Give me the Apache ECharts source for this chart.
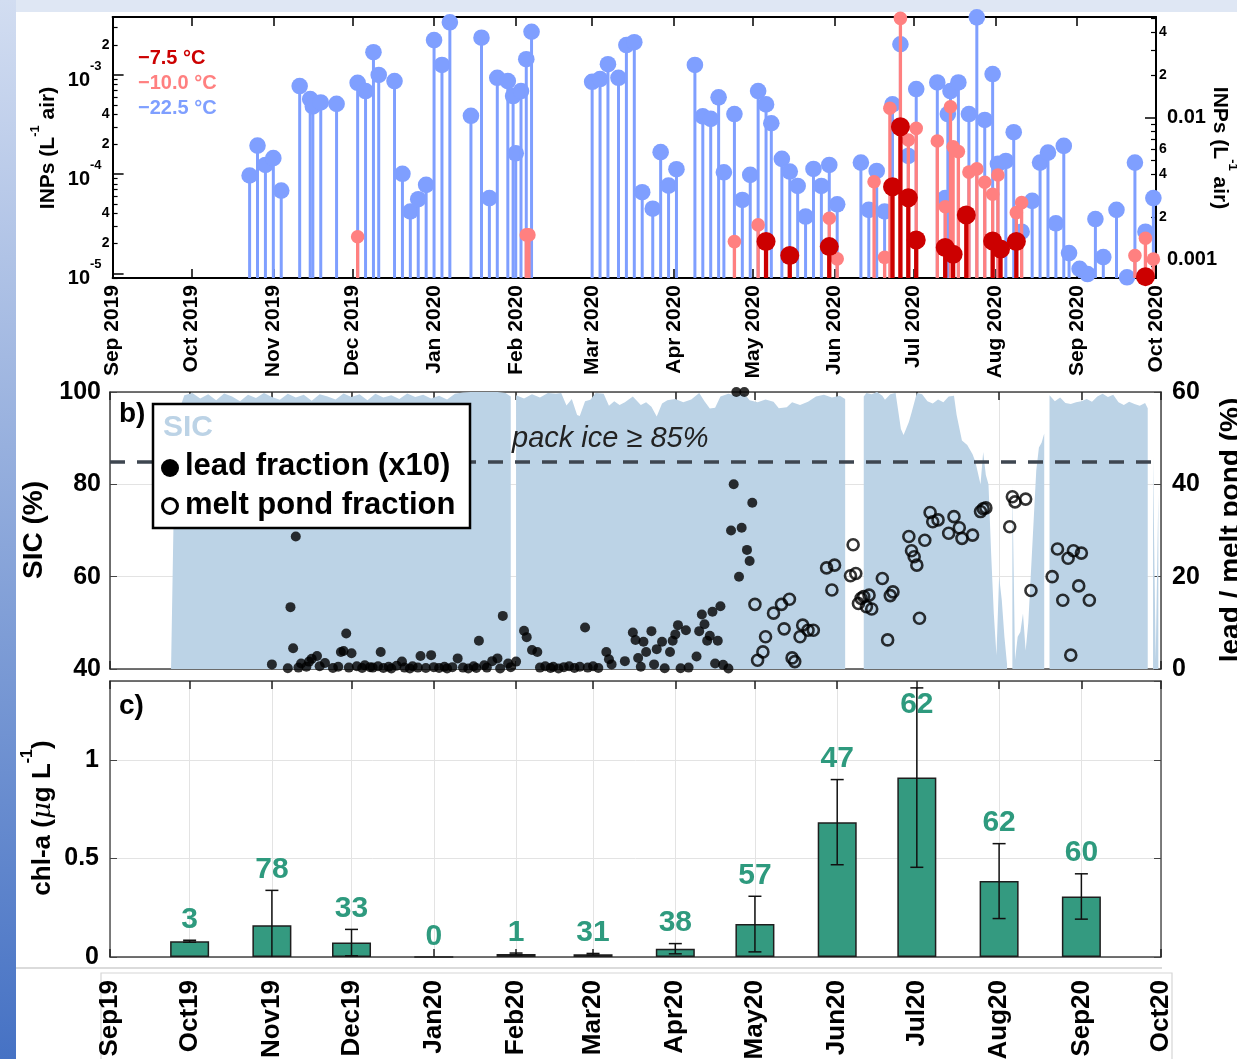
<!DOCTYPE html>
<html><head><meta charset="utf-8">
<script src="https://cdn.jsdelivr.net/npm/echarts@6/dist/echarts.min.js"></script>
<style>html,body{margin:0;padding:0;background:#fff}#c{width:1237px;height:1059px}</style>
</head><body><div id="c"></div><script>
// ---------------- DATA ----------------
const monthTicks = ['2019-09-01','2019-10-01','2019-11-01','2019-12-01','2020-01-01','2020-02-01','2020-03-01','2020-04-01','2020-05-01','2020-06-01','2020-07-01','2020-08-01','2020-09-01','2020-10-01'];
const topTickLabels = ['Sep 2019','Oct 2019','Nov 2019','Dec 2019','Jan 2020','Feb 2020','Mar 2020','Apr 2020','May 2020','Jun 2020','Jul 2020','Aug 2020','Sep 2020','Oct 2020'];
const bottomTickLabels = ['Sep19','Oct19','Nov19','Dec19','Jan20','Feb20','Mar20','Apr20','May20','Jun20','Jul20','Aug20','Sep20','Oct20'];

const leftLogTickValues = [1e-5, 1e-4, 1e-3];
const leftLogLabelValues = [1e-5, 2e-5, 4e-5, 1e-4, 2e-4, 4e-4, 1e-3, 2e-3];
const rightLogTickValues = [1e-3, 1e-2];
const rightLogLabelValues = [0.001, 0.002, 0.004, 0.006, 0.01, 0.02, 0.04];

// INP concentrations (L^-1 air)
const inp22 = [ // -22.5 °C (right axis)
['2019-10-23',0.00391],['2019-10-26',0.00635],['2019-10-29',0.00464],['2019-11-01',0.00518],['2019-11-04',0.00306],
['2019-11-11',0.0167],['2019-11-15',0.0135],['2019-11-16',0.0120],['2019-11-19',0.0128],['2019-11-25',0.0125],
['2019-12-03',0.0176],['2019-12-06',0.0154],['2019-12-09',0.0289],['2019-12-11',0.0200],['2019-12-17',0.0181],
['2019-12-20',0.00402],['2019-12-23',0.00218],['2019-12-26',0.00266],['2019-12-29',0.00336],['2020-01-01',0.0352],
['2020-01-04',0.0235],['2020-01-07',0.0470],['2020-01-15',0.0103],['2020-01-19',0.0366],['2020-01-22',0.00271],
['2020-01-25',0.0191],['2020-01-29',0.0181],['2020-01-31',0.0142],['2020-02-01',0.00561],['2020-02-03',0.0154],
['2020-02-05',0.0258],['2020-02-07',0.0403],
['2020-03-01',0.0179],['2020-03-04',0.0187],['2020-03-07',0.0238],['2020-03-11',0.0191],['2020-03-14',0.0325],
['2020-03-17',0.0340],['2020-03-20',0.00298],['2020-03-24',0.00228],['2020-03-27',0.00571],['2020-03-30',0.00332],
['2020-04-02',0.00433],['2020-04-09',0.0235],['2020-04-12',0.0102],['2020-04-15',0.0098],['2020-04-18',0.0139],
['2020-04-20',0.00412],['2020-04-24',0.0106],['2020-04-27',0.00263],['2020-04-30',0.00395],['2020-05-03',0.0154],
['2020-05-06',0.0124],['2020-05-08',0.00913],['2020-05-12',0.00512],['2020-05-15',0.00417],['2020-05-18',0.00330],
['2020-05-21',0.00201],['2020-05-24',0.00435],['2020-05-27',0.00330],['2020-05-30',0.00464],['2020-06-02',0.00245],
['2020-06-11',0.00482],['2020-06-14',0.00224],['2020-06-17',0.00421],['2020-06-20',0.00218],['2020-06-23',0.0124],
['2020-06-26',0.0329],['2020-06-29',0.00537],['2020-07-02',0.0159],['2020-07-10',0.0177],['2020-07-13',0.00271],
['2020-07-14',0.0106],['2020-07-15',0.0154],['2020-07-18',0.0177],['2020-07-22',0.0106],['2020-07-25',0.0509],
['2020-07-28',0.00963],['2020-07-31',0.0203],['2020-08-02',0.00472],['2020-08-05',0.00495],['2020-08-08',0.00789],
['2020-08-11',0.00157],['2020-08-15',0.00259],['2020-08-18',0.00482],['2020-08-21',0.00567],['2020-08-24',0.00180],
['2020-08-27',0.00632],['2020-08-29',0.00111],['2020-09-02',0.00086],['2020-09-05',0.00079],['2020-09-08',0.00193],
['2020-09-11',0.00104],['2020-09-16',0.00224],['2020-09-20',0.00075],['2020-09-23',0.00482],['2020-09-27',0.00157],
['2020-09-30',0.00271]
];
const inp10 = [ // -10.0 °C (left axis)
['2019-12-03',2.34e-5],['2020-02-05',2.44e-5],['2020-02-06',2.44e-5],['2020-04-24',2.09e-5],['2020-05-03',3.08e-5],
['2020-05-30',3.59e-5],['2020-06-02',1.40e-5],['2020-06-16',8.40e-5],['2020-06-20',1.45e-5],['2020-06-22',4.62e-4],
['2020-06-26',3.73e-3],['2020-06-29',2.21e-4],['2020-07-02',2.90e-4],['2020-07-10',2.16e-4],['2020-07-13',4.70e-5],
['2020-07-15',4.79e-4],['2020-07-16',1.89e-4],['2020-07-18',1.69e-4],['2020-07-22',1.05e-4],['2020-07-25',1.13e-4],
['2020-07-28',8.28e-5],['2020-07-31',6.27e-5],['2020-08-02',9.82e-5],['2020-08-09',4.09e-5],['2020-08-11',5.16e-5],
['2020-09-23',1.51e-5],['2020-09-27',2.26e-5],['2020-09-30',1.39e-5]
];
const inp7 = [ // -7.5 °C (left axis)
['2020-05-06',2.09e-5],['2020-05-15',1.51e-5],['2020-05-30',1.86e-5],['2020-06-23',7.48e-5],['2020-06-26',3.01e-4],
['2020-06-29',5.79e-5],['2020-07-02',2.17e-5],['2020-07-13',1.82e-5],['2020-07-16',1.56e-5],['2020-07-21',3.88e-5],
['2020-07-31',2.12e-5],['2020-08-03',1.76e-5],['2020-08-09',2.09e-5],['2020-09-27',9.26e-6]
];

// Sea ice concentration (%), null = no data
const sic = [
['2019-09-24',40],['2019-09-25',74],['2019-09-26',90],['2019-09-27',96],['2019-09-29',99.3],
['2019-10-02',99.8],['2019-10-05',98.6],['2019-10-08',99.5],['2019-10-11',98.2],['2019-10-14',99.7],['2019-10-17',99.0],
['2019-10-20',98.0],['2019-10-23',99.4],['2019-10-26',98.7],['2019-10-29',99.8],['2019-11-01',98.9],['2019-11-04',98.3],
['2019-11-07',99.6],['2019-11-10',98.8],['2019-11-13',99.4],['2019-11-16',98.1],['2019-11-19',99.5],['2019-11-22',99.0],
['2019-11-25',98.4],['2019-11-28',99.7],['2019-12-01',98.9],['2019-12-04',99.5],['2019-12-07',98.2],['2019-12-10',99.6],
['2019-12-13',98.8],['2019-12-16',99.3],['2019-12-19',98.5],['2019-12-22',99.7],['2019-12-25',98.9],['2019-12-28',99.4],
['2019-12-31',98.6],['2020-01-03',99.2],['2020-01-06',98.4],['2020-01-09',99.6],['2020-01-12',99.9],['2020-01-15',100],
['2020-01-20',100],['2020-01-25',100],['2020-01-28',99.8],['2020-01-30',99.0],['2020-01-31',null],
['2020-02-01',99.3],['2020-02-04',98.6],['2020-02-07',99.5],['2020-02-10',98.8],['2020-02-13',99.8],['2020-02-16',99.6],
['2020-02-18',99.8],['2020-02-20',97.1],['2020-02-22',98.5],['2020-02-24',95.0],['2020-02-25',94.8],['2020-02-27',98.0],
['2020-02-29',98.3],['2020-03-02',99.8],['2020-03-05',99.6],['2020-03-07',97.0],['2020-03-09',98.0],['2020-03-11',97.2],
['2020-03-13',97.8],['2020-03-16',99.0],['2020-03-19',97.2],['2020-03-21',97.8],['2020-03-23',96.8],['2020-03-25',94.7],
['2020-03-27',97.5],['2020-03-29',98.2],['2020-04-01',98.5],['2020-04-04',97.8],['2020-04-07',98.4],['2020-04-10',99.8],
['2020-04-12',98.0],['2020-04-14',96.4],['2020-04-16',96.6],['2020-04-18',99.0],['2020-04-21',99.6],['2020-04-24',99.2],
['2020-04-27',99.7],['2020-04-29',98.2],['2020-05-02',97.8],['2020-05-05',98.4],['2020-05-08',97.9],['2020-05-10',96.5],
['2020-05-13',96.7],['2020-05-15',97.8],['2020-05-18',97.2],['2020-05-21',97.9],['2020-05-24',99.0],['2020-05-27',99.4],
['2020-05-30',98.8],['2020-06-02',99.2],['2020-06-04',98.5],['2020-06-05',null],
['2020-06-11',99.0],['2020-06-12',99.8],['2020-06-14',99.5],['2020-06-16',100],['2020-06-18',99.2],['2020-06-19',98.3],
['2020-06-21',99.5],['2020-06-23',99.8],['2020-06-25',92.0],['2020-06-26',90.7],['2020-06-28',93.5],['2020-06-29',95.5],
['2020-07-01',99.8],['2020-07-03',99.5],['2020-07-05',98.0],['2020-07-07',97.5],['2020-07-09',98.4],['2020-07-11',97.8],
['2020-07-13',99.0],['2020-07-15',99.2],['2020-07-16',95.0],['2020-07-18',89.5],['2020-07-20',88.5],['2020-07-22',86.5],
['2020-07-23',85.0],['2020-07-25',80.0],['2020-07-26',87.0],['2020-07-27',82.0],['2020-07-28',80.0],['2020-07-29',65.0],
['2020-07-30',52.0],['2020-07-31',43.0],['2020-08-01',60.0],['2020-08-02',55.0],['2020-08-03',47.0],['2020-08-04',41.0],
['2020-08-05',null],['2020-08-06',80.0],['2020-08-07',42.0],['2020-08-08',47.0],['2020-08-09',48.0],['2020-08-10',52.0],
['2020-08-11',44.0],['2020-08-12',50.0],['2020-08-13',61.0],['2020-08-14',72.0],['2020-08-15',83.0],['2020-08-16',88.0],
['2020-08-17',89.0],['2020-08-18',91.0],['2020-08-19',null],
['2020-08-20',99.3],['2020-08-22',98.0],['2020-08-24',98.8],['2020-08-26',97.6],['2020-08-28',97.4],['2020-08-30',97.8],
['2020-09-01',98.0],['2020-09-03',98.5],['2020-09-05',97.9],['2020-09-07',99.0],['2020-09-09',99.6],['2020-09-11',98.9],
['2020-09-13',99.4],['2020-09-15',97.8],['2020-09-17',97.2],['2020-09-19',97.9],['2020-09-21',97.4],['2020-09-23',97.0],
['2020-09-25',97.6],['2020-09-26',96.5],['2020-09-27',null],['2020-09-28',86.0],['2020-09-29',42.0],['2020-09-30',78.0]
];

// lead fraction (x10, %) and melt pond fraction (%)
const leadFraction = [
['2019-11-01',1.0],['2019-11-07',0.15],['2019-11-08',13.4],['2019-11-09',4.5],['2019-11-10',28.7],['2019-11-11',0.3],
['2019-11-12',1.2],['2019-11-14',0.5],['2019-11-15',1.6],['2019-11-16',2.2],['2019-11-18',2.8],['2019-11-19',0.6],
['2019-11-21',1.3],['2019-11-24',0.2],['2019-11-26',0.5],['2019-11-27',3.7],['2019-11-28',3.9],['2019-11-29',7.7],
['2019-11-30',0.3],['2019-12-01',3.4],['2019-12-03',0.6],['2019-12-05',0.2],['2019-12-06',0.8],['2019-12-08',0.4],
['2019-12-09',0.3],['2019-12-11',0.6],['2019-12-12',3.7],['2019-12-13',0.2],['2019-12-15',0.5],['2019-12-16',0.1],
['2019-12-18',0.7],['2019-12-20',1.6],['2019-12-21',0.3],['2019-12-23',0.1],['2019-12-24',0.6],['2019-12-26',0.3],
['2019-12-27',2.8],['2019-12-29',0.2],['2019-12-31',3.0],['2020-01-01',0.4],['2020-01-03',0.2],['2020-01-05',0.5],
['2020-01-06',0.1],['2020-01-08',0.4],['2020-01-10',2.3],['2020-01-12',0.3],['2020-01-14',0.1],['2020-01-16',0.6],
['2020-01-17',0.2],['2020-01-18',6.1],['2020-01-20',0.8],['2020-01-21',0.3],['2020-01-23',1.7],['2020-01-25',2.3],
['2020-01-26',0.1],['2020-01-27',11.5],['2020-01-29',1.2],['2020-01-30',0.4],['2020-02-01',1.6],['2020-02-04',8.3],
['2020-02-05',6.9],['2020-02-07',4.1],['2020-02-09',3.7],['2020-02-10',0.3],['2020-02-12',0.6],['2020-02-14',0.2],
['2020-02-15',0.5],['2020-02-17',0.1],['2020-02-19',0.4],['2020-02-21',0.6],['2020-02-23',0.2],['2020-02-25',0.5],
['2020-02-27',9.0],['2020-02-28',0.3],['2020-03-01',0.6],['2020-03-03',0.2],['2020-03-06',3.7],['2020-03-07',2.1],
['2020-03-08',1.0],['2020-03-13',1.7],['2020-03-16',7.9],['2020-03-17',6.3],['2020-03-18',2.4],['2020-03-19',0.5],
['2020-03-20',5.9],['2020-03-21',3.7],['2020-03-23',8.2],['2020-03-24',1.0],['2020-03-25',4.3],['2020-03-27',5.9],
['2020-03-28',0.15],['2020-03-30',3.7],['2020-03-31',6.1],['2020-04-01',7.5],['2020-04-02',9.5],['2020-04-03',0.15],
['2020-04-05',8.4],['2020-04-06',0.3],['2020-04-09',2.7],['2020-04-10',8.2],['2020-04-11',11.8],['2020-04-12',9.7],
['2020-04-13',6.1],['2020-04-14',7.2],['2020-04-15',12.4],['2020-04-16',1.2],['2020-04-17',6.1],['2020-04-18',13.6],
['2020-04-19',0.9],['2020-04-21',0.1],['2020-04-22',30.0],['2020-04-23',40.0],['2020-04-24',60.0],['2020-04-25',20.0],
['2020-04-26',30.6],['2020-04-27',60.0],['2020-04-28',25.8],['2020-04-29',23.4],['2020-04-30',36.0]
];
const meltPond = [
['2020-05-01',14.0],['2020-05-02',1.9],['2020-05-04',3.7],['2020-05-05',7.0],['2020-05-08',12.1],['2020-05-11',14.0],
['2020-05-12',8.7],['2020-05-14',15.1],['2020-05-15',2.4],['2020-05-16',1.6],['2020-05-18',7.0],['2020-05-19',9.5],
['2020-05-21',8.4],['2020-05-23',8.4],['2020-05-28',21.9],['2020-05-30',17.1],['2020-05-31',22.5],['2020-06-06',20.2],
['2020-06-07',26.9],['2020-06-08',20.7],['2020-06-09',14.2],['2020-06-10',15.3],['2020-06-11',15.7],['2020-06-12',13.5],
['2020-06-13',16.0],['2020-06-14',13.0],['2020-06-18',19.6],['2020-06-20',6.3],['2020-06-21',15.9],['2020-06-22',16.7],
['2020-06-28',28.7],['2020-06-29',25.6],['2020-06-30',24.3],['2020-07-01',22.5],['2020-07-02',11.0],['2020-07-04',27.9],
['2020-07-06',33.9],['2020-07-07',31.9],['2020-07-09',32.3],['2020-07-13',29.4],['2020-07-15',33.0],['2020-07-17',30.6],
['2020-07-18',28.3],['2020-07-22',29.0],['2020-07-25',34.1],['2020-07-26',34.7],['2020-07-27',34.9],['2020-08-05',30.8],
['2020-08-06',37.3],['2020-08-07',36.2],['2020-08-11',36.8],['2020-08-13',17.0],['2020-08-21',20.0],['2020-08-23',26.0],
['2020-08-25',14.9],['2020-08-27',24.0],['2020-08-28',3.0],['2020-08-29',25.6],['2020-08-31',18.0],['2020-09-01',25.1],
['2020-09-04',14.9]
];

// chl-a monthly
const chlMonths = ['2019-10-01','2019-11-01','2019-12-01','2020-01-01','2020-02-01','2020-03-01','2020-04-01','2020-05-01','2020-06-01','2020-07-01','2020-08-01','2020-09-01'];
const chlMean = [0.080, 0.161, 0.073, 0, 0.015, 0.014, 0.042, 0.167, 0.684, 0.910, 0.385, 0.307];
const chlSd   = [0.005, 0.177, 0.067, 0, 0.005, 0.004, 0.026, 0.141, 0.216, 0.455, 0.190, 0.115];
const chlN    = [3, 78, 33, 0, 1, 31, 38, 57, 47, 62, 62, 60];

// ---------------- BUILD ----------------
const FF = '"Liberation Sans", Arial, Helvetica, sans-serif';
const T = s => { const p = s.split('-').map(Number); return new Date(p[0], p[1]-1, p[2]).getTime(); };
const pairs = arr => arr.map(d => [T(d[0]), d[1]]);
const monthTimes = monthTicks.map(T);
const tMin = monthTimes[0], tMax = monthTimes[monthTimes.length-1];
const monthFmt = labels => v => { for (let i=0;i<monthTimes.length;i++) if (Math.abs(monthTimes[i]-v) < 43200000) return labels[i]; return ''; };

const leftMin = 8.97e-6, leftMax = 3.85e-3, rightMin = 7.41e-4, rightMax = 0.0512;
function minorTicks(lo, hi){ const out=[]; for(let e=-6;e<=-1;e++) for(let k=2;k<=9;k++){ const v=k*Math.pow(10,e); if(v>=lo&&v<=hi) out.push(v);} return out; }
function expOf(v){ return Math.floor(Math.log10(v)+1e-9); }
function leftFmt(v){ const e=expOf(v), m=Math.round(v/Math.pow(10,e)); return m===1 ? '{e|10}{s|'+e+'}{g|}' : '{m|'+m+'}'; }
function rightFmt(v){ const e=expOf(v), m=Math.round(v/Math.pow(10,e)); return m===1 ? '{g|}{d|'+v.toFixed(-e)+'}' : '{m|'+m+'}'; }

const C22 = '#7f9fff', C10 = '#ff8080', C7 = '#cc0000';

function stemSeries(name, data, yIdx, color, r, w, z){
  return { name, type:'custom', coordinateSystem:'cartesian2d', xAxisIndex:0, yAxisIndex:yIdx, clip:false, z,
    encode:{x:0,y:1}, data:pairs(data),
    renderItem:(params, api) => {
      const p = api.coord([api.value(0), api.value(1)]);
      const base = params.coordSys.y + params.coordSys.height;
      return {type:'group', children:[
        {type:'line', shape:{x1:p[0],y1:base,x2:p[0],y2:p[1]}, style:{stroke:color, lineWidth:w}},
        {type:'circle', shape:{cx:p[0],cy:p[1],r:r}, style:{fill:color}}
      ]};
    }};
}

const lbl = (size, extra) => Object.assign({fontSize:size, fontWeight:'bold', color:'#000', fontFamily:FF}, extra||{});
function timeAxis(grid, pos, opts){
  return Object.assign({gridIndex:grid, type:'value', position:pos, min:tMin, max:tMax, scale:true,
    axisLine:{show:true, onZero:false, lineStyle:{color:'#444', width:1.5}},
    axisTick:{show:true, inside:true, length:8, customValues:monthTimes, lineStyle:{color:'#222', width:1.5}},
    axisLabel:{show:false}, splitLine:{show:false}, minorTick:{show:false}}, opts||{});
}

const option = {
  animation:false,
  backgroundColor:'#ffffff',
  grid:[
    {left:112.6, top:17, width:1043.4, height:261, containLabel:false, outerBoundsMode:'none'},
    {left:110, top:392, width:1051, height:277, containLabel:false, outerBoundsMode:'none'},
    {left:110, top:681, width:1051, height:276, containLabel:false, outerBoundsMode:'none'}
  ],
  xAxis:[
    timeAxis(0,'bottom',{axisLine:{show:true,onZero:false,lineStyle:{color:'#000',width:2}},
      axisTick:{show:true,inside:true,length:9,customValues:monthTimes,lineStyle:{color:'#000',width:1.5}},
      axisLabel:Object.assign(lbl(21),{show:true, rotate:90, margin:7, customValues:monthTimes, formatter:monthFmt(topTickLabels), showMinLabel:true, showMaxLabel:true})}),
    timeAxis(0,'top',{axisLine:{show:true,onZero:false,lineStyle:{color:'#000',width:2}},
      axisTick:{show:true,inside:true,length:9,customValues:monthTimes,lineStyle:{color:'#000',width:1.5}}}),
    timeAxis(1,'bottom',{splitLine:{show:true,lineStyle:{color:'#e3e3e3',width:1}}}),
    timeAxis(1,'top'),
    timeAxis(2,'bottom',{splitLine:{show:true,lineStyle:{color:'#e3e3e3',width:1}},
      axisLabel:Object.assign(lbl(26),{show:true, rotate:90, margin:23, customValues:monthTimes, formatter:monthFmt(bottomTickLabels), showMinLabel:true, showMaxLabel:true})}),
    timeAxis(2,'top')
  ],
  yAxis:[
    {gridIndex:0, type:'log', position:'left', min:leftMin, max:leftMax,
      axisLine:{show:true, lineStyle:{color:'#000', width:2}},
      axisTick:{show:true, inside:true, length:11, customValues:leftLogTickValues, lineStyle:{color:'#000', width:1.5}},
      axisLabel:{show:true, margin:3, customValues:leftLogLabelValues, formatter:leftFmt,
        rich:{e:lbl(20,{lineHeight:30, verticalAlign:'bottom'}), s:lbl(13,{verticalAlign:'top'}), m:lbl(14), g:{width:8}}},
      splitLine:{show:false}, minorTick:{show:false}},
    {gridIndex:0, type:'log', position:'right', min:rightMin, max:rightMax,
      axisLine:{show:true, lineStyle:{color:'#000', width:2}},
      axisTick:{show:true, inside:true, length:11, customValues:rightLogTickValues, lineStyle:{color:'#000', width:1.5}},
      axisLabel:{show:true, margin:3, customValues:rightLogLabelValues, formatter:rightFmt,
        rich:{d:lbl(20), m:lbl(14), g:{width:8}}},
      splitLine:{show:false}, minorTick:{show:false}},
    {gridIndex:0, type:'log', position:'left', min:leftMin, max:leftMax,
      axisLine:{show:false}, axisLabel:{show:false}, splitLine:{show:false},
      axisTick:{show:true, inside:true, length:5, customValues:minorTicks(leftMin,leftMax), lineStyle:{color:'#000', width:1.2}}},
    {gridIndex:0, type:'log', position:'right', min:rightMin, max:rightMax,
      axisLine:{show:false}, axisLabel:{show:false}, splitLine:{show:false},
      axisTick:{show:true, inside:true, length:5, customValues:minorTicks(rightMin,rightMax), lineStyle:{color:'#000', width:1.2}}},
    {gridIndex:1, type:'value', position:'left', min:40, max:100, interval:20,
      axisLine:{show:true, onZero:false, lineStyle:{color:'#444', width:1.5}},
      axisTick:{show:true, inside:true, length:7, lineStyle:{color:'#444'}},
      axisLabel:Object.assign(lbl(25),{margin:9}), splitLine:{show:true, lineStyle:{color:'#e3e3e3'}}},
    {gridIndex:1, type:'value', position:'right', min:0, max:60, interval:20,
      axisLine:{show:true, onZero:false, lineStyle:{color:'#444', width:1.5}},
      axisTick:{show:true, inside:true, length:7, lineStyle:{color:'#444'}},
      axisLabel:Object.assign(lbl(25),{margin:11}), splitLine:{show:false}},
    {gridIndex:2, type:'value', position:'left', min:0, max:1.4, interval:0.5,
      axisLine:{show:true, onZero:false, lineStyle:{color:'#555', width:1.5}},
      axisTick:{show:true, inside:true, length:7, lineStyle:{color:'#444'}},
      axisLabel:Object.assign(lbl(25),{margin:11, showMaxLabel:false, formatter:v => String(v)}),
      splitLine:{show:true, lineStyle:{color:'#e3e3e3'}}},
    {gridIndex:2, type:'value', position:'right', min:0, max:1.4, interval:0.5,
      axisLine:{show:true, onZero:false, lineStyle:{color:'#555', width:1.5}},
      axisTick:{show:true, inside:true, length:7, lineStyle:{color:'#444'}},
      axisLabel:{show:false}, splitLine:{show:false}}
  ],
  series:[
    stemSeries('-22.5 °C', inp22, 1, C22, 8.3, 3, 2),
    stemSeries('-10.0 °C', inp10, 0, C10, 6.8, 3.3, 3),
    stemSeries('-7.5 °C', inp7, 0, C7, 9.5, 4.3, 4),
    {name:'SIC', type:'line', xAxisIndex:2, yAxisIndex:4, data:pairs(sic), showSymbol:false, symbol:'none',
      connectNulls:false, lineStyle:{width:0, color:'#bcd3e6'}, areaStyle:{color:'#bcd3e6', opacity:1}, z:1,
      markLine:{silent:true, symbol:['none','none'], label:{show:false}, animation:false,
        lineStyle:{color:'#3e4650', width:3.5, type:[15,12]}, data:[{yAxis:85}]}},
    {name:'lead fraction (x10)', type:'scatter', xAxisIndex:2, yAxisIndex:5, data:pairs(leadFraction),
      symbol:'circle', symbolSize:10, itemStyle:{color:'#000'}, clip:false, z:4},
    {name:'melt pond fraction', type:'scatter', xAxisIndex:2, yAxisIndex:5, data:pairs(meltPond),
      symbol:'circle', symbolSize:11, itemStyle:{color:'rgba(0,0,0,0)', borderColor:'#000', borderWidth:2.6}, clip:false, z:4},
    {name:'chl-a', type:'bar', xAxisIndex:4, yAxisIndex:6, barWidth:39,
      data:chlMonths.map((m,i) => [T(m), chlMean[i]]),
      itemStyle:{color:'#349a80', borderColor:'#1e1e1e', borderWidth:1.5}, z:2},
    {name:'chl-a sd', type:'custom', coordinateSystem:'cartesian2d', xAxisIndex:4, yAxisIndex:6, clip:false, z:3,
      encode:{x:0, y:[1,2]},
      data:chlMonths.map((m,i) => [T(m), chlMean[i]-chlSd[i], chlMean[i]+chlSd[i]]),
      renderItem:(params, api) => {
        const x = api.value(0), lo = api.value(1), hi = api.value(2);
        if (!(hi > 0)) return null;
        const pt = api.coord([x, hi]), pb = api.coord([x, Math.max(0, lo)]);
        const st = {stroke:'#111', lineWidth:1.5}, cap = 6.5;
        const ch = [
          {type:'line', shape:{x1:pt[0],y1:pt[1],x2:pb[0],y2:pb[1]}, style:st},
          {type:'line', shape:{x1:pt[0]-cap,y1:pt[1],x2:pt[0]+cap,y2:pt[1]}, style:st}
        ];
        if (lo > 0) ch.push({type:'line', shape:{x1:pb[0]-cap,y1:pb[1],x2:pb[0]+cap,y2:pb[1]}, style:st});
        return {type:'group', children:ch};
      }},
    {name:'n', type:'custom', coordinateSystem:'cartesian2d', xAxisIndex:4, yAxisIndex:6, clip:false, z:5,
      encode:{x:0, y:1},
      data:chlMonths.map((m,i) => [T(m), Math.min(chlMean[i]+chlSd[i]+0.105, 1.28), chlN[i]]),
      renderItem:(params, api) => {
        const p = api.coord([api.value(0), api.value(1)]);
        return {type:'text', x:p[0], y:p[1], style:{text:String(api.value(2)), textAlign:'center', textVerticalAlign:'middle',
          align:'center', verticalAlign:'middle', fill:'#2e9a7e', font:'bold 30px '+FF}};
      }}
  ],
  graphic:[
    {type:'rect', z:0, silent:true, shape:{x:0,y:0,width:1237,height:12}, style:{fill:'#dfe7f4'}},
    {type:'rect', z:0, silent:true, shape:{x:0,y:0,width:16,height:1059},
      style:{fill:{type:'linear',x:0,y:0,x2:0,y2:1,colorStops:[{offset:0,color:'#d2ddf1'},{offset:1,color:'#4672c4'}]}}},
    {type:'line', z:0, silent:true, shape:{x1:16,y1:968,x2:1162,y2:968}, style:{stroke:'#cfcfcf', lineWidth:1.5}},
    {type:'polyline', z:0, silent:true, shape:{points:[[101,1059],[101,973],[1172,973],[1172,1059]]}, style:{stroke:'#d6d6d6', lineWidth:1.2, fill:null}},
    {type:'text', z:50, x:138, y:58, style:{text:'\u22127.5 \u00b0C', fill:C7, font:'bold 20px '+FF, textVerticalAlign:'middle', verticalAlign:'middle'}},
    {type:'text', z:50, x:138, y:83, style:{text:'\u221210.0 \u00b0C', fill:C10, font:'bold 20px '+FF, textVerticalAlign:'middle', verticalAlign:'middle'}},
    {type:'text', z:50, x:138, y:108, style:{text:'\u221222.5 \u00b0C', fill:C22, font:'bold 20px '+FF, textVerticalAlign:'middle', verticalAlign:'middle'}},
    {type:'text', z:50, x:44, y:148, rotation:Math.PI/2,
      style:{text:'{a|INPs (L}{s|-1}{a| air)}', textAlign:'center', textVerticalAlign:'middle', align:'center', verticalAlign:'middle',
        rich:{a:{fontSize:21, fontWeight:'bold', fontFamily:FF, fill:'#000', lineHeight:30, verticalAlign:'bottom'},
              s:{fontSize:13, fontWeight:'bold', fontFamily:FF, fill:'#000', verticalAlign:'top'}}}},
    {type:'text', z:50, x:1224, y:148, rotation:-Math.PI/2,
      style:{text:'{a|INPs (L}{s|-1}{a| air)}', textAlign:'center', textVerticalAlign:'middle', align:'center', verticalAlign:'middle',
        rich:{a:{fontSize:21, fontWeight:'bold', fontFamily:FF, fill:'#000', lineHeight:30, verticalAlign:'bottom'},
              s:{fontSize:13, fontWeight:'bold', fontFamily:FF, fill:'#000', verticalAlign:'top'}}}},
    {type:'text', z:50, x:34, y:530, rotation:Math.PI/2, style:{text:'SIC (%)', fill:'#000', font:'bold 28px '+FF, textAlign:'center', textVerticalAlign:'middle', align:'center', verticalAlign:'middle'}},
    {type:'text', z:50, x:1231, y:530, rotation:Math.PI/2, style:{text:'lead / melt pond (%)', fill:'#000', font:'bold 28px '+FF, textAlign:'center', textVerticalAlign:'middle', align:'center', verticalAlign:'middle'}},
    {type:'text', z:50, x:119, y:414, style:{text:'b)', fill:'#000', font:'bold 28px '+FF, textVerticalAlign:'middle', verticalAlign:'middle'}},
    {type:'text', z:50, x:512, y:439, style:{text:'pack ice \u2265 85%', fill:'#222', font:'italic 29px '+FF, textVerticalAlign:'middle', verticalAlign:'middle'}},
    {type:'rect', z:100, shape:{x:153,y:404,width:317,height:124}, style:{fill:'#fff', stroke:'#000', lineWidth:2.5}},
    {type:'text', z:101, x:163, y:428, style:{text:'SIC', fill:'#bcd3e6', font:'bold 30px '+FF, textVerticalAlign:'middle', verticalAlign:'middle'}},
    {type:'circle', z:101, shape:{cx:170, cy:468, r:9}, style:{fill:'#000'}},
    {type:'text', z:101, x:185, y:466, style:{text:'lead fraction (x10)', fill:'#000', font:'bold 31px '+FF, textVerticalAlign:'middle', verticalAlign:'middle'}},
    {type:'circle', z:101, shape:{cx:170, cy:506, r:7.5}, style:{fill:'#fff', stroke:'#000', lineWidth:3}},
    {type:'text', z:101, x:185, y:505, style:{text:'melt pond fraction', fill:'#000', font:'bold 31px '+FF, textVerticalAlign:'middle', verticalAlign:'middle'}},
    {type:'text', z:50, x:119, y:706, style:{text:'c)', fill:'#000', font:'bold 28px '+FF, textVerticalAlign:'middle', verticalAlign:'middle'}},
    {type:'text', z:50, x:38, y:818, rotation:Math.PI/2,
      style:{text:'{a|chl-a (}{i|\u03bc}{a|g L}{s|-1}{a|)}', textAlign:'center', textVerticalAlign:'middle', align:'center', verticalAlign:'middle',
        rich:{a:{fontSize:26, fontWeight:'bold', fontFamily:FF, fill:'#000', lineHeight:36, verticalAlign:'bottom'},
              i:{fontSize:26, fontStyle:'italic', fontFamily:'"DejaVu Serif", serif', fill:'#000', lineHeight:36, verticalAlign:'bottom'},
              s:{fontSize:16, fontWeight:'bold', fontFamily:FF, fill:'#000', verticalAlign:'top'}}}}
  ]
};
const chart = echarts.init(document.getElementById('c'), null, {renderer:'canvas'});
chart.setOption(option);
</script></body></html>
